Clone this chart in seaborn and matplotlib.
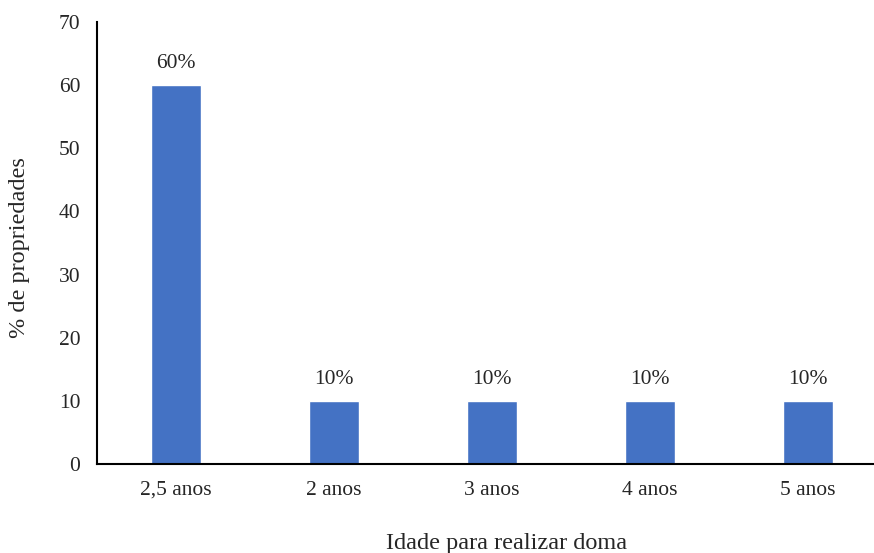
import matplotlib
matplotlib.use("Agg")
import matplotlib.pyplot as plt
import seaborn as sns
import pandas as pd

categories = ["2,5 anos", "2 anos", "3 anos", "4 anos", "5 anos"]
values = [60, 10, 10, 10, 10]
labels = ["60%", "10%", "10%", "10%", "10%"]
yticks = [0, 10, 20, 30, 40, 50, 60, 70]

sns.set_theme(style="white")
plt.rcParams['font.family'] = ['Liberation Serif', 'DejaVu Serif']

df = pd.DataFrame({"cat": categories, "val": values})
FS = 15.5
LFS = 17.5
TC = "#262626"

fig = plt.figure(figsize=(8.74, 5.53), dpi=100)
ax = fig.add_axes([97/874, 89/553, 790/874, 442/553])
sns.barplot(data=df, x="cat", y="val", color="#4472C4", width=0.32, ax=ax, saturation=1)

for i, (v, t) in enumerate(zip(values, labels)):
    ax.text(i, v + 1.9, t, ha="center", va="bottom", fontsize=FS, color=TC)

ax.set_xlim(-0.5, 4.5)
ax.set_ylim(0, 70)
ax.set_yticks(yticks)
ax.tick_params(axis="both", length=0, labelsize=FS, colors=TC)
ax.tick_params(axis="y", pad=12)
ax.tick_params(axis="x", pad=12)
for s in ["top", "right"]:
    ax.spines[s].set_visible(False)
for s in ["left", "bottom"]:
    ax.spines[s].set_color("black")
    ax.spines[s].set_linewidth(1.5)
ax.set_xlabel("")
ax.set_ylabel("")
fig.text(20/874, 1 - 248/553, "% de propriedades", rotation=90, ha="center", va="center", fontsize=LFS, color=TC)
fig.text(507/874, 1 - 543/553, "Idade para realizar doma", ha="center", va="center", fontsize=LFS, color=TC)

fig.savefig("out.png", dpi=100)
